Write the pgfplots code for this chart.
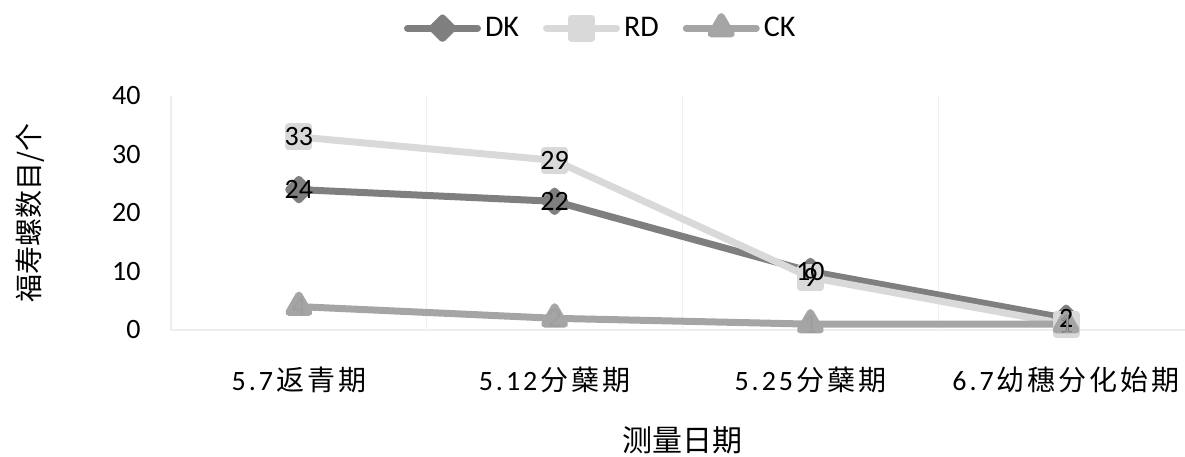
\documentclass[border=0pt]{standalone}
\usepackage{fontspec}
\setmainfont{Carlito}
\newfontfamily\cjk{Noto Sans CJK SC}
\usepackage{pgfplots}
\pgfplotsset{compat=1.18}
\definecolor{dk}{HTML}{7F7F7F}
\definecolor{rd}{HTML}{D9D9D9}
\definecolor{ck}{HTML}{A5A5A5}
\newcommand{\ks}{\kern1.5pt}
\begin{document}
\begin{tikzpicture}
\useasboundingbox (0,0) rectangle (592.5pt,228pt);
\begin{axis}[
  at={(85.5pt,63pt)}, anchor=south west,
  scale only axis, width=511.5pt, height=117pt,
  xmin=-0.5, xmax=3.5, ymin=0, ymax=40,
  clip=false,
  /pgf/number format/assume math mode=true,
  axis lines*=left,
  axis line style={draw=black!7, line width=0.6pt},
  xtick={0,1,2,3},
  xticklabels={
    {5\ks.\ks7\ks{\cjk 返\ks 青\ks 期}},
    {5\ks.\ks1\ks2\ks{\cjk 分\ks 蘖\ks 期}},
    {5\ks.\ks2\ks5\ks{\cjk 分\ks 蘖\ks 期}},
    {6\ks.\ks7\ks{\cjk 幼\ks 穗\ks 分\ks 化\ks 始\ks 期}}},
  extra x ticks={0.5,1.5,2.5},
  extra x tick labels={},
  extra x tick style={grid=major, major grid style={draw=black!6, line width=0.6pt}},
  ytick={0,10,20,30,40},
  major tick length=0pt,
  tick label style={font=\fontsize{14}{16}\selectfont},
  xticklabel style={anchor=center, yshift=-25pt},
  yticklabel style={anchor=east, inner sep=0pt, xshift=-15pt},
  xlabel={\cjk 测量日期},
  xlabel style={at={(axis description cs:0.5,-0.47)}, anchor=center, font=\fontsize{15}{17}\selectfont},
  ylabel={\cjk 福寿螺数目/个},
  ylabel style={at={(axis description cs:-0.138,0.5)}, anchor=center, font=\fontsize{14}{16}\selectfont},
  legend style={at={(0.421,1.29)}, anchor=center, draw=none, fill=none,
    legend columns=3, font=\fontsize{15}{17}\selectfont,
    /tikz/every even column/.append style={column sep=10pt}},
  legend image code/.code={\draw[mark repeat=2, mark phase=2, line cap=round]
    plot coordinates {(0pt,0pt)(17.5pt,0pt)(35pt,0pt)};},
  every axis plot/.append style={line width=3.5pt, line cap=round, line join=round},
  every node near coord/.append style={anchor=center, font=\fontsize{14}{16}\selectfont},
]
\addplot[dk, mark=square*, mark size=3.6pt, mark options={rotate=45, solid}]
  coordinates {(0,24)(1,22)(2,10)(3,2)};
\addlegendentry{DK}
\addplot[rd, mark=square*, mark size=5pt, mark options={solid}]
  coordinates {(0,33)(1,29)(2,9)(3,1)};
\addlegendentry{RD}
\addplot[ck, mark=triangle*, mark size=5.8pt, mark options={solid}]
  coordinates {(0,4)(1,2)(2,1)(3,1)};
\addlegendentry{CK}
% data labels on top of all lines
\addplot[draw=none, mark=none, forget plot, nodes near coords,
  nodes near coords style={text=black}] coordinates {(0,24)(1,22)(2,10)(3,2)};
\addplot[draw=none, mark=none, forget plot, nodes near coords,
  nodes near coords style={text=black}] coordinates {(0,33)(1,29)(2,9)(3,1)};
\addplot[draw=none, mark=none, forget plot, nodes near coords,
  nodes near coords style={text=black!38}] coordinates {(0,4)(1,2)(2,1)(3,1)};
\end{axis}
\end{tikzpicture}
\end{document}
